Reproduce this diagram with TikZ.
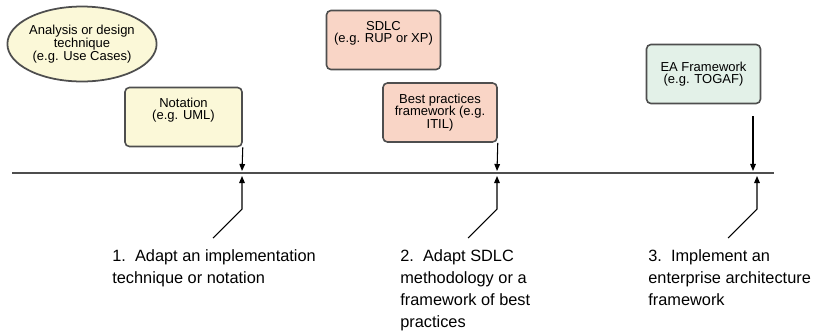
\documentclass[tikz,border=0pt]{standalone}
\usepackage{fontspec}
\setmainfont{Liberation Sans}
\definecolor{notefill}{RGB}{251,248,216}
\definecolor{sdlcfill}{RGB}{249,213,198}
\definecolor{eafill}{RGB}{227,241,232}
\definecolor{edgegray}{RGB}{78,78,78}
\usetikzlibrary{arrows.meta}
\usetikzlibrary{shapes.geometric}

\begin{document}
\begin{tikzpicture}[x=0.02cm, y=-0.02cm,
  box/.style={draw=edgegray, line width=0.9pt, rounded corners=2.5pt,
    minimum width=2.28cm, minimum height=1.18cm, align=center, inner sep=1pt,
    font=\fontsize{7.4}{7.1}\selectfont},
  pointer/.style={-{Triangle[length=4pt,width=3.2pt]}, line width=0.6pt},
  steptext/.style={anchor=north west, align=left, inner sep=0pt,
    font=\fontsize{9.3}{12.6}\selectfont}]
  \useasboundingbox (0,0) rectangle (820,332);

  % Methods above the line
  \node[ellipse, draw=edgegray, line width=1pt, fill=notefill, minimum width=2.98cm,
    minimum height=1.5cm, align=center, inner sep=0pt,
    font=\fontsize{7.4}{7.3}\selectfont] (technique) at (82,44)
    {Analysis or design\\technique\\(e.g. Use Cases)};
  \node[box, fill=notefill, minimum width=2.34cm] (notation) at (183.5,117) {Notation\\(e.g. UML)\\[2pt]};
  \node[box, fill=sdlcfill] (sdlc) at (383.5,40) {SDLC\\(e.g. RUP or XP)\\[2pt]};
  \node[box, fill=sdlcfill] (bestpractice) at (440,112.5) {Best practices\\framework (e.g.\\ITIL)};
  \node[box, fill=eafill] (eaframe) at (703.5,74) {EA Framework\\(e.g. TOGAF)};

  % The line
  \coordinate (lineL) at (12,173);
  \coordinate (lineR) at (774,173);
  \draw[line width=1pt, edgegray] (lineL) -- (lineR);

  % Arrows down to the line
  \coordinate (hit1) at (242,171);
  \coordinate (hit2) at (497,171);
  \coordinate (eaTop) at (753,116);
  \coordinate (hit3) at (753,171);
  \draw[pointer] (notation.south east) -- (hit1);
  \draw[pointer] (bestpractice.south east) -- (hit2);
  \draw[pointer] (eaTop) -- (hit3);

  % Arrows up from the steps
  \foreach \i/\xs in {1/242, 2/497, 3/757} {
    \coordinate (foot\i) at (\xs-29,238);
    \coordinate (knee\i) at (\xs,209);
    \coordinate (tip\i) at (\xs,176);
    \draw[pointer] (foot\i) -- (knee\i) -- (tip\i);
  }

  % Steps
  \node[steptext] (step1) at (112,249) {1.\ \ Adapt an implementation\\technique or notation};
  \node[steptext] (step2) at (400,249) {2.\ \ Adapt SDLC\\methodology or a\\framework of best\\practices};
  \node[steptext] (step3) at (648,249) {3.\ \ Implement an\\enterprise architecture\\framework};

\end{tikzpicture}
\end{document}
